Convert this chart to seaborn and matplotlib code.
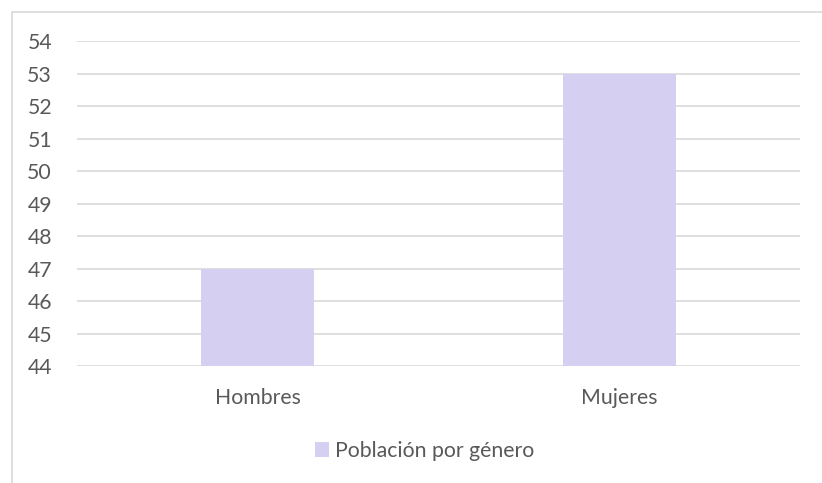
import matplotlib
matplotlib.use("Agg")
import matplotlib.pyplot as plt
from matplotlib.patches import Patch
from matplotlib.lines import Line2D
import seaborn as sns
import pandas as pd

# chart data
categorias = ["Hombres", "Mujeres"]
poblacion = [47, 53]
serie = "Población por género"
y_ticks = list(range(44, 55))

bar_color = "#D5D0F2"
grid_color = "#D9D9D9"
text_color = "#595959"

sns.set_style("white")
plt.rcParams['font.family'] = ['Lato', 'DejaVu Sans']

df = pd.DataFrame({"genero": categorias, "valor": poblacion})

fig = plt.figure(figsize=(8.22, 4.83), dpi=100)
ax = fig.add_axes([77/822, 117/483, 723/822, 325/483])

sns.barplot(data=df, x="genero", y="valor", color=bar_color, width=0.3125,
            saturation=1, linewidth=0, ax=ax, zorder=3)

ax.set_xlim(-0.5, 1.5)
ax.set_ylim(44, 54)
ax.set_yticks(y_ticks)
ax.set_xlabel("")
ax.set_ylabel("")
ax.yaxis.grid(True, color=grid_color, lw=1.2, zorder=0)
ax.set_axisbelow(True)
for s in ax.spines.values():
    s.set_visible(False)
ax.tick_params(axis='both', length=0, labelsize=15.3, colors=text_color)
ax.tick_params(axis='y', pad=18)
ax.tick_params(axis='x', pad=16)

# legend at bottom
handles = [Patch(facecolor=bar_color, edgecolor='none', label=serie)]
fig.legend(handles=handles, loc='center', bbox_to_anchor=(425/822, 1 - 451/483),
           frameon=False, fontsize=15.3, labelcolor=text_color,
           handlelength=0.65, handleheight=0.65, handletextpad=0.3)

# chart border (top and left only visible)
fig.add_artist(Line2D([12/822, 1], [1 - 12/483, 1 - 12/483], color=grid_color, lw=1.2,
                      transform=fig.transFigure))
fig.add_artist(Line2D([12/822, 12/822], [0, 1 - 12/483], color=grid_color, lw=1.2,
                      transform=fig.transFigure))

fig.savefig("out.png", dpi=100)
